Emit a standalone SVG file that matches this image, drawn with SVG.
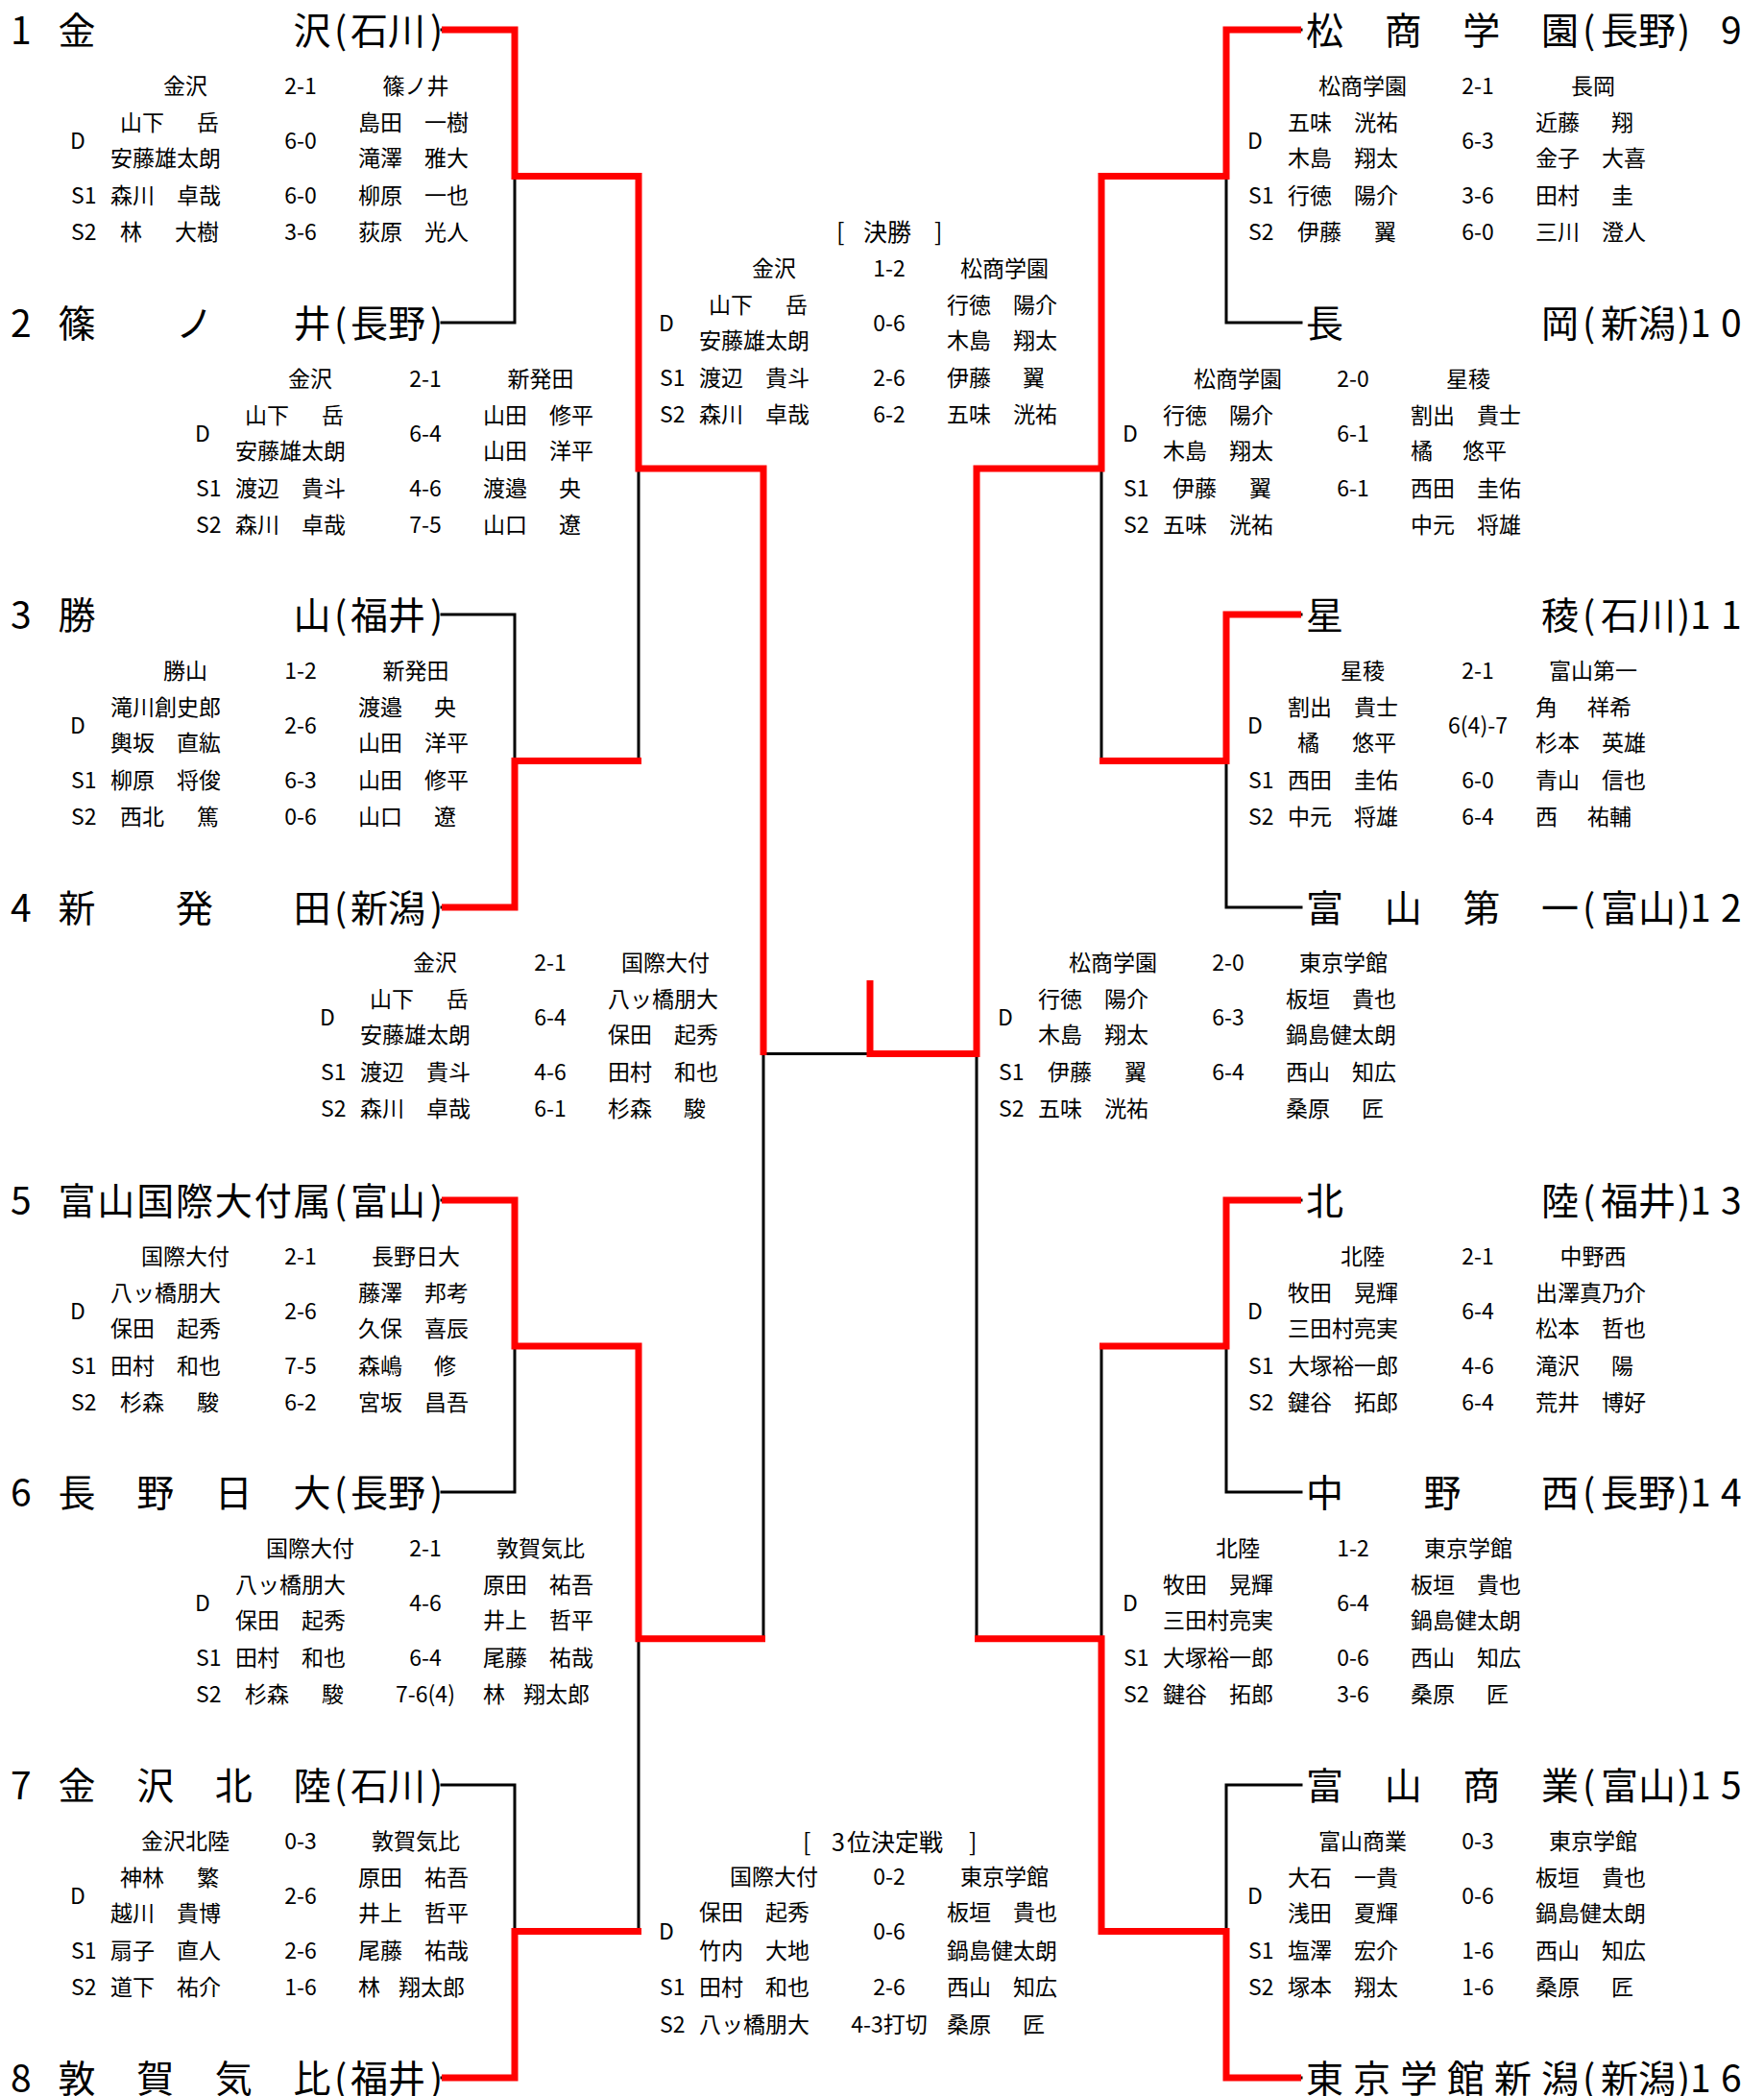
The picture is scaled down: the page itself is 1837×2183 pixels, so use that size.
<svg xmlns="http://www.w3.org/2000/svg" width="1837" height="2183" viewBox="0 0 1837 2183">
<style>
text { font-family: "Noto Sans CJK JP", "Noto Sans CJK SC", sans-serif; fill: #000; dominant-baseline: central; }
.tm { font-size: 39px; }
.m { font-size: 23px; }
.ttl { font-size: 25px; }
.c { text-anchor: middle; }
.bk { fill: none; stroke: #000; stroke-width: 3; stroke-linecap: square; }
.rd { fill: none; stroke: #ff0000; stroke-width: 7; stroke-linejoin: miter; stroke-linecap: butt; }
</style>
<rect width="1837" height="2183" fill="#fff"/>
<g id="connectors">
<path class="bk" d="M460,31H536 M460,336H536 M460,640H536 M460,945H536 M460,1250H536 M460,1554H536 M460,1859H536 M460,2164H536
M536,31V336 M536,640V945 M536,1250V1554 M536,1859V2164
M536,183.5H665 M536,792.5H665 M536,1402H665 M536,2011.5H665
M665,183.5V792.5 M665,1402V2011.5 M665,488H795 M665,1706.75H795 M795,488V1706.75 M795,1097.4H1017
M1277,31H1355 M1277,336H1355 M1277,640H1355 M1277,945H1355 M1277,1250H1355 M1277,1554H1355 M1277,1859H1355 M1277,2164H1355
M1277,31V336 M1277,640V945 M1277,1250V1554 M1277,1859V2164
M1147,183.5H1277 M1147,792.5H1277 M1147,1402H1277 M1147,2011.5H1277
M1147,183.5V792.5 M1147,1402V2011.5 M1017,488H1147 M1017,1706.75H1147 M1017,488V1706.75"/>
<path class="rd" d="M460,31H536V183.5H665V488H795V1099"/>
<path class="rd" d="M460,945H536V792.5H668"/>
<path class="rd" d="M460,1250H536V1402H665V1706.75H797"/>
<path class="rd" d="M460,2164H536V2011.5H668"/>
<path class="rd" d="M1355,31H1277V183.5H1147V488H1017V1097.4H906V1021"/>
<path class="rd" d="M1355,640H1277V792.5H1145"/>
<path class="rd" d="M1355,1250H1277V1402H1145"/>
<path class="rd" d="M1355,2164H1277V2011.5H1147V1706.75H1015"/>
</g>
<g id="team-1"><text class="tm" y="29"><tspan x="11">1</tspan><tspan x="60.5">金</tspan><tspan x="305.5">沢</tspan><tspan x="348">(</tspan><tspan x="365">石川</tspan><tspan x="448">)</tspan></text></g>
<g id="team-2"><text class="tm" y="334"><tspan x="11">2</tspan><tspan x="60.5">篠</tspan><tspan x="183">ノ</tspan><tspan x="305.5">井</tspan><tspan x="348">(</tspan><tspan x="365">長野</tspan><tspan x="448">)</tspan></text></g>
<g id="team-3"><text class="tm" y="638"><tspan x="11">3</tspan><tspan x="60.5">勝</tspan><tspan x="305.5">山</tspan><tspan x="348">(</tspan><tspan x="365">福井</tspan><tspan x="448">)</tspan></text></g>
<g id="team-4"><text class="tm" y="943"><tspan x="11">4</tspan><tspan x="60.5">新</tspan><tspan x="183">発</tspan><tspan x="305.5">田</tspan><tspan x="348">(</tspan><tspan x="365">新潟</tspan><tspan x="448">)</tspan></text></g>
<g id="team-5"><text class="tm" y="1248"><tspan x="11">5</tspan><tspan x="60.5">富</tspan><tspan x="101.3">山</tspan><tspan x="142.2">国</tspan><tspan x="183">際</tspan><tspan x="223.8">大</tspan><tspan x="264.7">付</tspan><tspan x="305.5">属</tspan><tspan x="348">(</tspan><tspan x="365">富山</tspan><tspan x="448">)</tspan></text></g>
<g id="team-6"><text class="tm" y="1552"><tspan x="11">6</tspan><tspan x="60.5">長</tspan><tspan x="142.2">野</tspan><tspan x="223.8">日</tspan><tspan x="305.5">大</tspan><tspan x="348">(</tspan><tspan x="365">長野</tspan><tspan x="448">)</tspan></text></g>
<g id="team-7"><text class="tm" y="1857"><tspan x="11">7</tspan><tspan x="60.5">金</tspan><tspan x="142.2">沢</tspan><tspan x="223.8">北</tspan><tspan x="305.5">陸</tspan><tspan x="348">(</tspan><tspan x="365">石川</tspan><tspan x="448">)</tspan></text></g>
<g id="team-8"><text class="tm" y="2162"><tspan x="11">8</tspan><tspan x="60.5">敦</tspan><tspan x="142.2">賀</tspan><tspan x="223.8">気</tspan><tspan x="305.5">比</tspan><tspan x="348">(</tspan><tspan x="365">福井</tspan><tspan x="448">)</tspan></text></g>
<g id="team-9"><text class="tm" y="29"><tspan x="1360">松</tspan><tspan x="1441.7">商</tspan><tspan x="1523.3">学</tspan><tspan x="1605">園</tspan><tspan x="1648">(</tspan><tspan x="1667">長野</tspan><tspan x="1747">)</tspan><tspan x="1792">9</tspan></text></g>
<g id="team-10"><text class="tm" y="334"><tspan x="1360">長</tspan><tspan x="1605">岡</tspan><tspan x="1648">(</tspan><tspan x="1667">新潟</tspan><tspan x="1747">)</tspan><tspan x="1760">1</tspan><tspan x="1792">0</tspan></text></g>
<g id="team-11"><text class="tm" y="638"><tspan x="1360">星</tspan><tspan x="1605">稜</tspan><tspan x="1648">(</tspan><tspan x="1667">石川</tspan><tspan x="1747">)</tspan><tspan x="1760">1</tspan><tspan x="1792">1</tspan></text></g>
<g id="team-12"><text class="tm" y="943"><tspan x="1360">富</tspan><tspan x="1441.7">山</tspan><tspan x="1523.3">第</tspan><tspan x="1605">一</tspan><tspan x="1648">(</tspan><tspan x="1667">富山</tspan><tspan x="1747">)</tspan><tspan x="1760">1</tspan><tspan x="1792">2</tspan></text></g>
<g id="team-13"><text class="tm" y="1248"><tspan x="1360">北</tspan><tspan x="1605">陸</tspan><tspan x="1648">(</tspan><tspan x="1667">福井</tspan><tspan x="1747">)</tspan><tspan x="1760">1</tspan><tspan x="1792">3</tspan></text></g>
<g id="team-14"><text class="tm" y="1552"><tspan x="1360">中</tspan><tspan x="1482.5">野</tspan><tspan x="1605">西</tspan><tspan x="1648">(</tspan><tspan x="1667">長野</tspan><tspan x="1747">)</tspan><tspan x="1760">1</tspan><tspan x="1792">4</tspan></text></g>
<g id="team-15"><text class="tm" y="1857"><tspan x="1360">富</tspan><tspan x="1441.7">山</tspan><tspan x="1523.3">商</tspan><tspan x="1605">業</tspan><tspan x="1648">(</tspan><tspan x="1667">富山</tspan><tspan x="1747">)</tspan><tspan x="1760">1</tspan><tspan x="1792">5</tspan></text></g>
<g id="team-16"><text class="tm" y="2162"><tspan x="1360">東</tspan><tspan x="1409">京</tspan><tspan x="1458">学</tspan><tspan x="1507">館</tspan><tspan x="1556">新</tspan><tspan x="1605">潟</tspan><tspan x="1648">(</tspan><tspan x="1667">新潟</tspan><tspan x="1747">)</tspan><tspan x="1760">1</tspan><tspan x="1792">6</tspan></text></g>

<g id="match-L1">
<text class="m c" x="193" y="88">金沢</text><text class="m c" x="313" y="88">2-1</text><text class="m c" x="433" y="88">篠ノ井</text>
<text class="m c" x="81" y="144.5">D</text><text class="m c" x="313" y="144.5">6-0</text><text class="m c" x="313" y="202">6-0</text><text class="m c" x="313" y="240">3-6</text>
<text class="m" y="126"><tspan x="125">山下</tspan><tspan x="205">岳</tspan><tspan x="373">島田　一樹</tspan></text>
<text class="m" y="163"><tspan x="115">安藤雄太朗</tspan><tspan x="373">滝澤　雅大</tspan></text>
<text class="m" y="202"><tspan x="74">S1</tspan><tspan x="115">森川　卓哉</tspan><tspan x="373">柳原　一也</tspan></text>
<text class="m" y="240"><tspan x="74">S2</tspan><tspan x="125">林</tspan><tspan x="182">大樹</tspan><tspan x="373">荻原　光人</tspan></text>
</g>
<g id="match-L2">
<text class="m c" x="323" y="393">金沢</text><text class="m c" x="443" y="393">2-1</text><text class="m c" x="563" y="393">新発田</text>
<text class="m c" x="211" y="449.5">D</text><text class="m c" x="443" y="449.5">6-4</text><text class="m c" x="443" y="507">4-6</text><text class="m c" x="443" y="545">7-5</text>
<text class="m" y="431"><tspan x="255">山下</tspan><tspan x="335">岳</tspan><tspan x="503">山田　修平</tspan></text>
<text class="m" y="468"><tspan x="245">安藤雄太朗</tspan><tspan x="503">山田　洋平</tspan></text>
<text class="m" y="507"><tspan x="204">S1</tspan><tspan x="245">渡辺　貴斗</tspan><tspan x="503">渡邉</tspan><tspan x="582">央</tspan></text>
<text class="m" y="545"><tspan x="204">S2</tspan><tspan x="245">森川　卓哉</tspan><tspan x="503">山口</tspan><tspan x="582">遼</tspan></text>
</g>
<g id="match-L3">
<text class="m c" x="193" y="697">勝山</text><text class="m c" x="313" y="697">1-2</text><text class="m c" x="433" y="697">新発田</text>
<text class="m c" x="81" y="753.5">D</text><text class="m c" x="313" y="753.5">2-6</text><text class="m c" x="313" y="811">6-3</text><text class="m c" x="313" y="849">0-6</text>
<text class="m" y="735"><tspan x="115">滝川創史郎</tspan><tspan x="373">渡邉</tspan><tspan x="452">央</tspan></text>
<text class="m" y="772"><tspan x="115">輿坂　直紘</tspan><tspan x="373">山田　洋平</tspan></text>
<text class="m" y="811"><tspan x="74">S1</tspan><tspan x="115">柳原　将俊</tspan><tspan x="373">山田　修平</tspan></text>
<text class="m" y="849"><tspan x="74">S2</tspan><tspan x="125">西北</tspan><tspan x="205">篤</tspan><tspan x="373">山口</tspan><tspan x="452">遼</tspan></text>
</g>
<g id="match-L4">
<text class="m c" x="453" y="1001">金沢</text><text class="m c" x="573" y="1001">2-1</text><text class="m c" x="693" y="1001">国際大付</text>
<text class="m c" x="341" y="1057.5">D</text><text class="m c" x="573" y="1057.5">6-4</text><text class="m c" x="573" y="1115">4-6</text><text class="m c" x="573" y="1153">6-1</text>
<text class="m" y="1039"><tspan x="385">山下</tspan><tspan x="465">岳</tspan><tspan x="633">八ッ橋朋大</tspan></text>
<text class="m" y="1076"><tspan x="375">安藤雄太朗</tspan><tspan x="633">保田　起秀</tspan></text>
<text class="m" y="1115"><tspan x="334">S1</tspan><tspan x="375">渡辺　貴斗</tspan><tspan x="633">田村　和也</tspan></text>
<text class="m" y="1153"><tspan x="334">S2</tspan><tspan x="375">森川　卓哉</tspan><tspan x="633">杉森</tspan><tspan x="712">駿</tspan></text>
</g>
<g id="match-L5">
<text class="m c" x="193" y="1307">国際大付</text><text class="m c" x="313" y="1307">2-1</text><text class="m c" x="433" y="1307">長野日大</text>
<text class="m c" x="81" y="1363.5">D</text><text class="m c" x="313" y="1363.5">2-6</text><text class="m c" x="313" y="1421">7-5</text><text class="m c" x="313" y="1459">6-2</text>
<text class="m" y="1345"><tspan x="115">八ッ橋朋大</tspan><tspan x="373">藤澤　邦考</tspan></text>
<text class="m" y="1382"><tspan x="115">保田　起秀</tspan><tspan x="373">久保　喜辰</tspan></text>
<text class="m" y="1421"><tspan x="74">S1</tspan><tspan x="115">田村　和也</tspan><tspan x="373">森嶋</tspan><tspan x="452">修</tspan></text>
<text class="m" y="1459"><tspan x="74">S2</tspan><tspan x="125">杉森</tspan><tspan x="205">駿</tspan><tspan x="373">宮坂　昌吾</tspan></text>
</g>
<g id="match-L6">
<text class="m c" x="323" y="1611">国際大付</text><text class="m c" x="443" y="1611">2-1</text><text class="m c" x="563" y="1611">敦賀気比</text>
<text class="m c" x="211" y="1667.5">D</text><text class="m c" x="443" y="1667.5">4-6</text><text class="m c" x="443" y="1725">6-4</text><text class="m c" x="443" y="1763">7-6(4)</text>
<text class="m" y="1649"><tspan x="245">八ッ橋朋大</tspan><tspan x="503">原田　祐吾</tspan></text>
<text class="m" y="1686"><tspan x="245">保田　起秀</tspan><tspan x="503">井上　哲平</tspan></text>
<text class="m" y="1725"><tspan x="204">S1</tspan><tspan x="245">田村　和也</tspan><tspan x="503">尾藤　祐哉</tspan></text>
<text class="m" y="1763"><tspan x="204">S2</tspan><tspan x="255">杉森</tspan><tspan x="335">駿</tspan><tspan x="503">林</tspan><tspan x="545">翔太郎</tspan></text>
</g>
<g id="match-L7">
<text class="m c" x="193" y="1916">金沢北陸</text><text class="m c" x="313" y="1916">0-3</text><text class="m c" x="433" y="1916">敦賀気比</text>
<text class="m c" x="81" y="1972.5">D</text><text class="m c" x="313" y="1972.5">2-6</text><text class="m c" x="313" y="2030">2-6</text><text class="m c" x="313" y="2068">1-6</text>
<text class="m" y="1954"><tspan x="125">神林</tspan><tspan x="205">繁</tspan><tspan x="373">原田　祐吾</tspan></text>
<text class="m" y="1991"><tspan x="115">越川　貴博</tspan><tspan x="373">井上　哲平</tspan></text>
<text class="m" y="2030"><tspan x="74">S1</tspan><tspan x="115">扇子　直人</tspan><tspan x="373">尾藤　祐哉</tspan></text>
<text class="m" y="2068"><tspan x="74">S2</tspan><tspan x="115">道下　祐介</tspan><tspan x="373">林</tspan><tspan x="415">翔太郎</tspan></text>
</g>
<g id="match-final">
<text class="ttl" y="240"><tspan x="871">[</tspan><tspan x="899">決勝</tspan><tspan x="973">]</tspan></text>
<text class="m c" x="806" y="278">金沢</text><text class="m c" x="926" y="278">1-2</text><text class="m c" x="1046" y="278">松商学園</text>
<text class="m c" x="694" y="334.5">D</text><text class="m c" x="926" y="334.5">0-6</text><text class="m c" x="926" y="392">2-6</text><text class="m c" x="926" y="430">6-2</text>
<text class="m" y="316"><tspan x="738">山下</tspan><tspan x="818">岳</tspan><tspan x="986">行徳　陽介</tspan></text>
<text class="m" y="353"><tspan x="728">安藤雄太朗</tspan><tspan x="986">木島　翔太</tspan></text>
<text class="m" y="392"><tspan x="687">S1</tspan><tspan x="728">渡辺　貴斗</tspan><tspan x="986">伊藤</tspan><tspan x="1065">翼</tspan></text>
<text class="m" y="430"><tspan x="687">S2</tspan><tspan x="728">森川　卓哉</tspan><tspan x="986">五味　洸祐</tspan></text>
</g>
<g id="match-third">
<text class="ttl" y="1917"><tspan x="836">[</tspan><tspan x="866">3</tspan><tspan x="882">位決定戦</tspan><tspan x="1009">]</tspan></text>
<text class="m c" x="806" y="1953">国際大付</text><text class="m c" x="926" y="1953">0-2</text><text class="m c" x="1046" y="1953">東京学館</text>
<text class="m c" x="694" y="2010">D</text><text class="m c" x="926" y="2010">0-6</text><text class="m c" x="926" y="2068">2-6</text><text class="m c" x="926" y="2107">4-3打切</text>
<text class="m" y="1990"><tspan x="728">保田　起秀</tspan><tspan x="986">板垣　貴也</tspan></text>
<text class="m" y="2030"><tspan x="728">竹内　大地</tspan><tspan x="986">鍋島健太朗</tspan></text>
<text class="m" y="2068"><tspan x="687">S1</tspan><tspan x="728">田村　和也</tspan><tspan x="986">西山　知広</tspan></text>
<text class="m" y="2107"><tspan x="687">S2</tspan><tspan x="728">八ッ橋朋大</tspan><tspan x="986">桑原</tspan><tspan x="1065">匠</tspan></text>
</g>
<g id="match-R1">
<text class="m c" x="1419" y="88">松商学園</text><text class="m c" x="1539" y="88">2-1</text><text class="m c" x="1659" y="88">長岡</text>
<text class="m c" x="1307" y="144.5">D</text><text class="m c" x="1539" y="144.5">6-3</text><text class="m c" x="1539" y="202">3-6</text><text class="m c" x="1539" y="240">6-0</text>
<text class="m" y="126"><tspan x="1341">五味　洸祐</tspan><tspan x="1599">近藤</tspan><tspan x="1678">翔</tspan></text>
<text class="m" y="163"><tspan x="1341">木島　翔太</tspan><tspan x="1599">金子　大喜</tspan></text>
<text class="m" y="202"><tspan x="1300">S1</tspan><tspan x="1341">行徳　陽介</tspan><tspan x="1599">田村</tspan><tspan x="1678">圭</tspan></text>
<text class="m" y="240"><tspan x="1300">S2</tspan><tspan x="1351">伊藤</tspan><tspan x="1431">翼</tspan><tspan x="1599">三川　澄人</tspan></text>
</g>
<g id="match-R2">
<text class="m c" x="1289" y="393">松商学園</text><text class="m c" x="1409" y="393">2-0</text><text class="m c" x="1529" y="393">星稜</text>
<text class="m c" x="1177" y="449.5">D</text><text class="m c" x="1409" y="449.5">6-1</text><text class="m c" x="1409" y="507">6-1</text>
<text class="m" y="431"><tspan x="1211">行徳　陽介</tspan><tspan x="1469">割出　貴士</tspan></text>
<text class="m" y="468"><tspan x="1211">木島　翔太</tspan><tspan x="1469">橘</tspan><tspan x="1523">悠平</tspan></text>
<text class="m" y="507"><tspan x="1170">S1</tspan><tspan x="1221">伊藤</tspan><tspan x="1301">翼</tspan><tspan x="1469">西田　圭佑</tspan></text>
<text class="m" y="545"><tspan x="1170">S2</tspan><tspan x="1211">五味　洸祐</tspan><tspan x="1469">中元　将雄</tspan></text>
</g>
<g id="match-R3">
<text class="m c" x="1419" y="697">星稜</text><text class="m c" x="1539" y="697">2-1</text><text class="m c" x="1659" y="697">富山第一</text>
<text class="m c" x="1307" y="753.5">D</text><text class="m c" x="1539" y="753.5">6(4)-7</text><text class="m c" x="1539" y="811">6-0</text><text class="m c" x="1539" y="849">6-4</text>
<text class="m" y="735"><tspan x="1341">割出　貴士</tspan><tspan x="1599">角</tspan><tspan x="1653">祥希</tspan></text>
<text class="m" y="772"><tspan x="1351">橘</tspan><tspan x="1408">悠平</tspan><tspan x="1599">杉本　英雄</tspan></text>
<text class="m" y="811"><tspan x="1300">S1</tspan><tspan x="1341">西田　圭佑</tspan><tspan x="1599">青山　信也</tspan></text>
<text class="m" y="849"><tspan x="1300">S2</tspan><tspan x="1341">中元　将雄</tspan><tspan x="1599">西</tspan><tspan x="1653">祐輔</tspan></text>
</g>
<g id="match-R4">
<text class="m c" x="1159" y="1001">松商学園</text><text class="m c" x="1279" y="1001">2-0</text><text class="m c" x="1399" y="1001">東京学館</text>
<text class="m c" x="1047" y="1057.5">D</text><text class="m c" x="1279" y="1057.5">6-3</text><text class="m c" x="1279" y="1115">6-4</text>
<text class="m" y="1039"><tspan x="1081">行徳　陽介</tspan><tspan x="1339">板垣　貴也</tspan></text>
<text class="m" y="1076"><tspan x="1081">木島　翔太</tspan><tspan x="1339">鍋島健太朗</tspan></text>
<text class="m" y="1115"><tspan x="1040">S1</tspan><tspan x="1091">伊藤</tspan><tspan x="1171">翼</tspan><tspan x="1339">西山　知広</tspan></text>
<text class="m" y="1153"><tspan x="1040">S2</tspan><tspan x="1081">五味　洸祐</tspan><tspan x="1339">桑原</tspan><tspan x="1418">匠</tspan></text>
</g>
<g id="match-R5">
<text class="m c" x="1419" y="1307">北陸</text><text class="m c" x="1539" y="1307">2-1</text><text class="m c" x="1659" y="1307">中野西</text>
<text class="m c" x="1307" y="1363.5">D</text><text class="m c" x="1539" y="1363.5">6-4</text><text class="m c" x="1539" y="1421">4-6</text><text class="m c" x="1539" y="1459">6-4</text>
<text class="m" y="1345"><tspan x="1341">牧田　晃輝</tspan><tspan x="1599">出澤真乃介</tspan></text>
<text class="m" y="1382"><tspan x="1341">三田村亮実</tspan><tspan x="1599">松本　哲也</tspan></text>
<text class="m" y="1421"><tspan x="1300">S1</tspan><tspan x="1341">大塚裕一郎</tspan><tspan x="1599">滝沢</tspan><tspan x="1678">陽</tspan></text>
<text class="m" y="1459"><tspan x="1300">S2</tspan><tspan x="1341">鍵谷　拓郎</tspan><tspan x="1599">荒井　博好</tspan></text>
</g>
<g id="match-R6">
<text class="m c" x="1289" y="1611">北陸</text><text class="m c" x="1409" y="1611">1-2</text><text class="m c" x="1529" y="1611">東京学館</text>
<text class="m c" x="1177" y="1667.5">D</text><text class="m c" x="1409" y="1667.5">6-4</text><text class="m c" x="1409" y="1725">0-6</text><text class="m c" x="1409" y="1763">3-6</text>
<text class="m" y="1649"><tspan x="1211">牧田　晃輝</tspan><tspan x="1469">板垣　貴也</tspan></text>
<text class="m" y="1686"><tspan x="1211">三田村亮実</tspan><tspan x="1469">鍋島健太朗</tspan></text>
<text class="m" y="1725"><tspan x="1170">S1</tspan><tspan x="1211">大塚裕一郎</tspan><tspan x="1469">西山　知広</tspan></text>
<text class="m" y="1763"><tspan x="1170">S2</tspan><tspan x="1211">鍵谷　拓郎</tspan><tspan x="1469">桑原</tspan><tspan x="1548">匠</tspan></text>
</g>
<g id="match-R7">
<text class="m c" x="1419" y="1916">富山商業</text><text class="m c" x="1539" y="1916">0-3</text><text class="m c" x="1659" y="1916">東京学館</text>
<text class="m c" x="1307" y="1972.5">D</text><text class="m c" x="1539" y="1972.5">0-6</text><text class="m c" x="1539" y="2030">1-6</text><text class="m c" x="1539" y="2068">1-6</text>
<text class="m" y="1954"><tspan x="1341">大石　一貴</tspan><tspan x="1599">板垣　貴也</tspan></text>
<text class="m" y="1991"><tspan x="1341">浅田　夏輝</tspan><tspan x="1599">鍋島健太朗</tspan></text>
<text class="m" y="2030"><tspan x="1300">S1</tspan><tspan x="1341">塩澤　宏介</tspan><tspan x="1599">西山　知広</tspan></text>
<text class="m" y="2068"><tspan x="1300">S2</tspan><tspan x="1341">塚本　翔太</tspan><tspan x="1599">桑原</tspan><tspan x="1678">匠</tspan></text>
</g>
</svg>
